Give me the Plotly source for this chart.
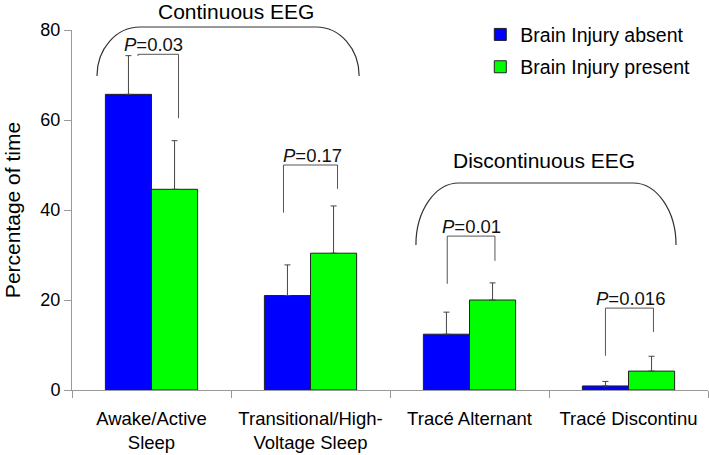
import plotly.graph_objects as go

# ---------------- data ----------------
categories = ["Awake/Active<br>Sleep", "Transitional/High-<br>Voltage Sleep",
              "Tracé Alternant", "Tracé Discontinu"]
absent = [65.7, 21.0, 12.4, 0.9]
absent_err = [8.6, 6.8, 4.9, 1.0]
present = [44.6, 30.4, 20.0, 4.2]
present_err = [10.8, 10.5, 3.8, 3.3]
p_values = ["0.03", "0.17", "0.01", "0.016"]
series_names = ["Brain Injury absent", "Brain Injury present"]
group_names = ["Continuous EEG", "Discontinuous EEG"]
group_members = [(0, 1), (2, 3)]
y_ticks = [0, 20, 40, 60, 80]

# ---------------- style ----------------
FONT = "Liberation Sans, Arial, sans-serif"
BLUE, GREEN = "#0000FF", "#00FF00"
YMAX = 80
# bracket layout per category: (gap above highest error bar, left drop, right drop, left dx, right dx)
BRACKETS = [(0.3, 0.4, 14.2, -0.085, 0.17),
            (9.1, 10.6, 5.3, -0.17, 0.17),
            (10.4, 10.6, 5.5, -0.14, 0.16),
            (10.7, 10.6, 5.3, -0.145, 0.157)]
# group arcs: (left pad, right pad, end value, top value, label dx, label y value)
ARCS = [(0.343, 0.306, 69.8, 80.67, 0.05, 84.1),
        (0.337, 0.299, 32.2, 46.0, -0.01, 51.1)]
CORNER = 0.27

fig = go.Figure()
fig.add_bar(x=categories, y=absent, name=series_names[0],
            marker=dict(color=BLUE, line=dict(color="#222", width=1)),
            error_y=dict(type="data", symmetric=False, array=absent_err,
                         arrayminus=[0] * len(absent), color="#444", thickness=1, width=3),
            legendgroup="a")
fig.add_bar(x=categories, y=present, name=series_names[1],
            marker=dict(color=GREEN, line=dict(color="#222", width=1)),
            error_y=dict(type="data", symmetric=False, array=present_err,
                         arrayminus=[0] * len(present), color="#444", thickness=1, width=3),
            legendgroup="b")

shapes = []
annotations = []
for i, pv in enumerate(p_values):
    gap, ld, rd, lx, rx = BRACKETS[i]
    top = max(absent[i] + absent_err[i], present[i] + present_err[i]) + gap
    xl, xr = i + lx, i + rx
    shapes.append(dict(type="path", xref="x", yref="y",
                       path=f"M {xl},{top - ld} L {xl},{top} L {xr},{top} L {xr},{top - rd}",
                       line=dict(color="#555", width=1)))
    annotations.append(dict(x=i + 0.01, y=top, xref="x", yref="y", yanchor="bottom",
                            text=f"<i>P</i>=" + pv, showarrow=False, yshift=-3,
                            font=dict(family=FONT, size=18.5, color="#111")))

for (a, b), name, (lp, rp, ye, yt, ldx, ly) in zip(group_members, group_names, ARCS):
    x0, x1 = a - lp, b + rp
    pe, pt = ye / YMAX, yt / YMAX
    k = 0.5523
    path = (f"M {x0},{pe} C {x0},{pe + k * (pt - pe)} {x0 + (1 - k) * CORNER},{pt} {x0 + CORNER},{pt} "
            f"L {x1 - CORNER},{pt} C {x1 - (1 - k) * CORNER},{pt} {x1},{pe + k * (pt - pe)} {x1},{pe}")
    shapes.append(dict(type="path", xref="x", yref="paper", path=path,
                       line=dict(color="#333", width=1.2)))
    annotations.append(dict(x=(x0 + x1) / 2 + ldx, y=ly / YMAX, xref="x", yref="paper",
                            text=name, showarrow=False, yanchor="middle",
                            font=dict(family=FONT, size=21, color="#000")))

fig.update_layout(
    width=709, height=455,
    margin=dict(l=72, r=1, t=30, b=65),
    paper_bgcolor="white", plot_bgcolor="white",
    font=dict(family=FONT, color="#000"),
    bargap=0.42, bargroupgap=0,
    showlegend=True,
    legend=dict(x=0.642, y=1.041, xanchor="left", yanchor="top",
                font=dict(family=FONT, size=19.5, color="#000"),
                traceorder="grouped", tracegroupgap=4, bgcolor="rgba(0,0,0,0)"),
    shapes=shapes, annotations=annotations,
)
fig.update_xaxes(type="category", tickson="boundaries", ticks="outside", ticklen=7,
                 tickcolor="#999", showline=True, linecolor="#999", linewidth=1,
                 range=[-0.5, 3.5], tickfont=dict(family=FONT, size=18.5, color="#000"),
                 ticklabelstandoff=12, showgrid=False)
fig.update_yaxes(range=[0, YMAX], tickvals=y_ticks, ticks="outside", ticklen=7,
                 tickcolor="#999", showline=True, linecolor="#999", linewidth=1,
                 showgrid=False, zeroline=False,
                 tickfont=dict(family=FONT, size=18, color="#000"),
                 title=dict(text="Percentage of time", standoff=14,
                            font=dict(family=FONT, size=21, color="#000")))

fig.write_html("out.html", config={"displayModeBar": False},
               post_script="document.body.style.margin='0';")
